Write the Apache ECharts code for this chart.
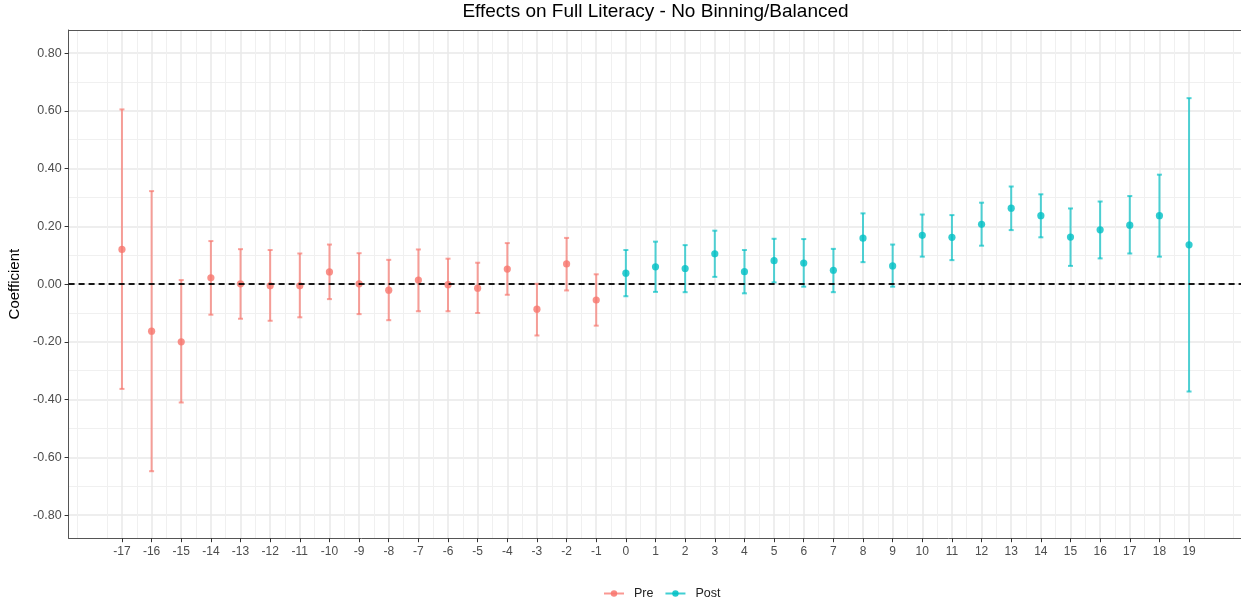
<!DOCTYPE html>
<html>
<head>
<meta charset="utf-8">
<script src="https://cdn.jsdelivr.net/npm/echarts@6/dist/echarts.min.js"></script>
<style>html,body{margin:0;padding:0;background:#fff}#c{width:1241px;height:603px}</style>
</head>
<body>
<div id="c"></div>
<script>
const titleText = 'Effects on Full Literacy - No Binning/Balanced';
const yAxisTitle = 'Coefficient';
const seriesNames = ['Pre', 'Post'];
const xTicks = [-17,-16,-15,-14,-13,-12,-11,-10,-9,-8,-7,-6,-5,-4,-3,-2,-1,0,1,2,3,4,5,6,7,8,9,10,11,12,13,14,15,16,17,18,19];
const yTicks = [-0.8,-0.6,-0.4,-0.2,0,0.2,0.4,0.6,0.8];

const preX   = [-17,-16,-15,-14,-13,-12,-11,-10,-9,-8,-7,-6,-5,-4,-3,-2,-1];
const preEst = [0.120,-0.163,-0.200,0.022,0.001,-0.006,-0.006,0.042,0.001,-0.021,0.014,-0.002,-0.014,0.052,-0.087,0.070,-0.055];
const preLo  = [-0.363,-0.648,-0.410,-0.106,-0.120,-0.127,-0.115,-0.052,-0.104,-0.125,-0.094,-0.094,-0.100,-0.037,-0.178,-0.022,-0.144];
const preHi  = [0.605,0.322,0.014,0.149,0.121,0.118,0.106,0.137,0.107,0.084,0.120,0.088,0.074,0.142,0.001,0.160,0.034];

const postX   = [0,1,2,3,4,5,6,7,8,9,10,11,12,13,14,15,16,17,18,19];
const postEst = [0.038,0.060,0.054,0.105,0.043,0.081,0.073,0.048,0.159,0.063,0.169,0.162,0.207,0.263,0.237,0.163,0.188,0.204,0.237,0.136];
const postLo  = [-0.042,-0.027,-0.028,0.025,-0.032,0.006,-0.009,-0.028,0.076,-0.009,0.095,0.083,0.133,0.187,0.162,0.063,0.089,0.106,0.095,-0.372];
const postHi  = [0.118,0.147,0.135,0.185,0.118,0.157,0.156,0.122,0.245,0.137,0.241,0.239,0.282,0.338,0.311,0.262,0.286,0.305,0.379,0.644];

const colors = ['#F8766D', '#00BFC4'];
const FONT = '"Liberation Sans", Arial, sans-serif';

function rows(xs, est, lo, hi) { return xs.map((x, i) => [x, est[i], lo[i], hi[i]]); }

function makeRender(color) {
  return function (params, api) {
    const x = api.value(0), e = api.value(1), lo = api.value(2), hi = api.value(3);
    const pL = api.coord([x, lo]), pH = api.coord([x, hi]), p = api.coord([x, e]);
    const cw = 2.5;
    const ls = { stroke: color, lineWidth: 2, opacity: 0.68 };
    return { type: 'group', children: [
      { type: 'line', shape: { x1: pL[0], y1: pL[1], x2: pH[0], y2: pH[1] }, style: ls },
      { type: 'line', shape: { x1: pL[0] - cw, y1: pL[1], x2: pL[0] + cw, y2: pL[1] }, style: ls },
      { type: 'line', shape: { x1: pH[0] - cw, y1: pH[1], x2: pH[0] + cw, y2: pH[1] }, style: ls },
      { type: 'circle', shape: { cx: p[0], cy: p[1], r: 3.6 }, style: { fill: color, opacity: 0.8 } }
    ]};
  };
}

const gridLeft = 68.6, gridTop = 30, gridW = 1175, gridH = 508.2;
const borderLine = { show: true, onZero: false, lineStyle: { color: '#555', width: 1 } };

const chart = echarts.init(document.getElementById('c'), null, { renderer: 'canvas' });
chart.setOption({
  animation: false,
  backgroundColor: '#fff',
  textStyle: { fontFamily: FONT },
  graphic: [{
    type: 'text', x: 655.5, y: 12,
    style: { text: titleText, fontSize: 19, fontFamily: FONT, fill: '#000', align: 'center', verticalAlign: 'middle' }
  }],
  grid: { left: gridLeft, top: gridTop, width: gridW, height: gridH, show: false, containLabel: false, outerBoundsMode: 'none' },
  legend: {
    left: 598, top: 582, itemWidth: 20, itemHeight: 8, itemGap: 11,
    textStyle: { fontSize: 12.5, color: '#222', fontFamily: FONT, padding: [0, 0, 0, 5] },
    data: seriesNames
  },
  xAxis: [{
    type: 'value', min: -18.8, max: 20.84, splitNumber: 40, position: 'bottom',
    axisLine: borderLine,
    axisTick: { show: true, length: 4, lineStyle: { color: '#333' }, customValues: xTicks },
    axisLabel: { customValues: xTicks, fontSize: 12, color: '#4d4d4d', margin: 7, fontFamily: FONT },
    splitLine: { show: true, lineStyle: { color: '#e8e8e8', width: 1.5 } },
    minorTick: { show: false, splitNumber: 2 },
    minorSplitLine: { show: true, lineStyle: { color: '#f0f0f0', width: 1 } }
  }, {
    type: 'value', min: -18.8, max: 20.84, position: 'top',
    axisLine: borderLine, axisTick: { show: false }, axisLabel: { show: false }, splitLine: { show: false }
  }],
  yAxis: {
    type: 'value', min: -0.88, max: 0.88, splitNumber: 9,
    name: yAxisTitle, nameLocation: 'middle', nameGap: 43,
    nameTextStyle: { fontSize: 15, color: '#000', fontFamily: FONT },
    axisLine: borderLine,
    axisTick: { show: true, length: 4, lineStyle: { color: '#333' }, customValues: yTicks },
    axisLabel: { customValues: yTicks, fontSize: 12.5, color: '#4d4d4d', margin: 7, fontFamily: FONT, formatter: v => v.toFixed(2) },
    splitLine: { show: true, lineStyle: { color: '#e8e8e8', width: 1.5 } },
    minorTick: { show: false, splitNumber: 2 },
    minorSplitLine: { show: true, lineStyle: { color: '#f0f0f0', width: 1 } }
  },
  series: [
    { name: seriesNames[0], type: 'line', data: [], symbol: 'circle', symbolSize: 7, itemStyle: { color: colors[0], opacity: 0.85 }, lineStyle: { color: colors[0], width: 2, opacity: 0.75 } },
    { name: seriesNames[1], type: 'line', data: [], symbol: 'circle', symbolSize: 7, itemStyle: { color: colors[1], opacity: 0.85 }, lineStyle: { color: colors[1], width: 2, opacity: 0.75 } },
    { name: seriesNames[0] + ' bars', type: 'custom', renderItem: makeRender(colors[0]), data: rows(preX, preEst, preLo, preHi), encode: { x: 0, y: [1, 2, 3] }, z: 3 },
    { name: seriesNames[1] + ' bars', type: 'custom', renderItem: makeRender(colors[1]), data: rows(postX, postEst, postLo, postHi), encode: { x: 0, y: [1, 2, 3] }, z: 3 },
    { type: 'line', data: [], z: 5, markLine: { silent: true, symbol: 'none', label: { show: false },
      lineStyle: { color: '#000', type: [6, 4], width: 1.8, opacity: 0.9 }, data: [{ yAxis: 0 }] } }
  ]
});
</script>
</body>
</html>
